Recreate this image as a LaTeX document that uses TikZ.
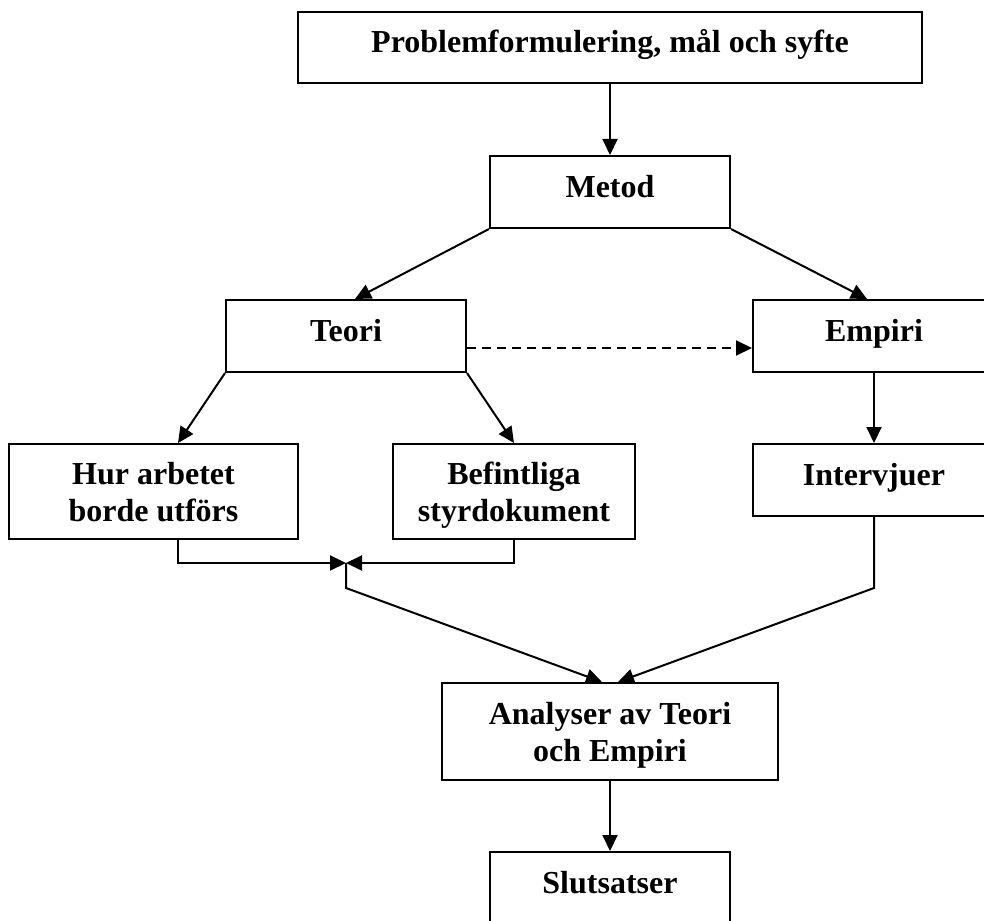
\documentclass[tikz,border=0pt]{standalone}
\usepackage{fontspec}
\setmainfont{Liberation Serif}
\usetikzlibrary{arrows.meta,calc}
\begin{document}
\begin{tikzpicture}[x=1pt,y=-1pt,
  box/.style={draw,line width=2pt,rectangle,inner sep=0pt,
    font=\fontsize{32}{37}\selectfont\bfseries},
  oneline/.style={box,text height=24pt,text depth=14pt},
  twoline/.style={box,align=center,text depth=0pt},
  link/.style={line width=2pt},
  arr/.style={link,-{Triangle[length=16pt,width=15pt]}},
  dasharr/.style={arr,dash pattern=on 9pt off 6pt}]
\useasboundingbox (0,0) rectangle (984,920);
\clip (0,0) rectangle (984,920);

% boxes
\node[oneline,minimum width=624pt,minimum height=71pt] (prob) at (610,47.5) {Problemformulering, mål och syfte};
\node[oneline,minimum width=240pt,minimum height=72pt] (metod) at (610,192) {Metod};
\node[oneline,minimum width=240pt,minimum height=72pt] (teori) at (346,336) {Teori};
\node[oneline,minimum width=242pt,minimum height=72pt] (empiri) at (874,336) {Empiri};
\node[twoline,minimum width=289pt,minimum height=95pt] (hur) at (153.5,491.5) {Hur arbetet\\borde utförs};
\node[twoline,minimum width=242pt,minimum height=95pt] (bef) at (514,491.5) {Befintliga\\styrdokument};
\node[oneline,minimum width=242pt,minimum height=72pt] (interv) at (874,480) {Intervjuer};
\node[twoline,minimum width=336pt,minimum height=97pt] (anal) at (610,731.5) {Analyser av Teori\\och Empiri};
\node[oneline,minimum width=240pt,minimum height=73pt] (slut) at (610,888.5) {Slutsatser};

% junction points
\coordinate (join) at (346,563);
\coordinate (bendL) at (346,588);
\coordinate (bendR) at (874,588);

% connectors
\draw[arr] (prob) -- (metod);
\draw[arr] (metod.south west) -- ($(teori.north)+(9,0)$);
\draw[arr] (metod.south east) -- ($(empiri.north)+(-7,0)$);
\draw[dasharr] ($(teori.east)+(0,12)$) -- ($(empiri.west)+(0,12)$);
\draw[arr] (teori.south west) -- ($(hur.north)+(24.5,0)$);
\draw[arr] (teori.south east) -- (bef.north);
\draw[arr] (empiri) -- (interv);
\draw[arr] ($(hur.south)+(24.5,0)$) |- (join);
\draw[arr] (bef.south) |- (join);
\draw[arr] (join) -- (bendL) -- ($(anal.north)+(-8,0)$);
\draw[arr] (interv.south) -- (bendR) -- ($(anal.north)+(8,0)$);
\draw[arr] (anal) -- (slut);
\end{tikzpicture}
\end{document}
